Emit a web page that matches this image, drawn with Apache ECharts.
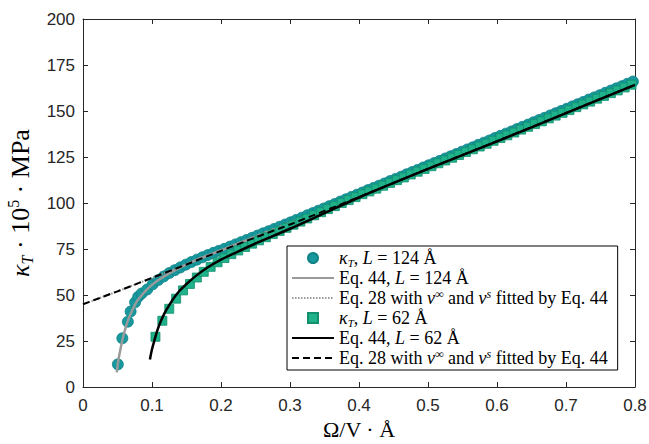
<!DOCTYPE html>
<html><head><meta charset="utf-8">
<script src="https://cdn.jsdelivr.net/npm/echarts@6/dist/echarts.min.js"></script>
<style>html,body{margin:0;padding:0;background:#fff}#c{width:649px;height:444px}</style>
</head><body><div id="c"></div>
<script>
// ---- data ----
const xTickMin = 0, xTickMax = 0.8, xTickStep = 0.1;
const yTickMin = 0, yTickMax = 200, yTickStep = 25;

// kappa_T, L = 124 Å (circles)
const c124X = [0.0505,0.057,0.065,0.069,0.0755,0.080,0.085,0.093,0.101,0.109,0.117,0.125,0.133,0.141,0.149,0.157,0.165,0.173,0.181,0.189,0.197,0.205,0.213,0.221,0.229,0.237,0.245,0.253,0.261,0.269,0.277,0.285,0.293,0.301,0.309,0.317,0.325,0.333,0.341,0.349,0.357,0.365,0.373,0.381,0.389,0.397,0.405,0.413,0.421,0.429,0.437,0.445,0.453,0.461,0.469,0.477,0.485,0.493,0.501,0.509,0.517,0.525,0.533,0.541,0.549,0.557,0.565,0.573,0.581,0.589,0.597,0.605,0.613,0.621,0.629,0.637,0.645,0.653,0.661,0.669,0.677,0.685,0.693,0.701,0.709,0.717,0.725,0.733,0.741,0.749,0.757,0.765,0.773,0.781,0.789,0.797];
const c124Y = [12.3,26.5,35.5,41,46,49,50.8,53,55.8,58.1,60.1,61.9,63.5,65,66.5,67.9,69.2,70.5,71.7,72.9,74,75.1,76.3,77.5,78.7,79.9,81.1,82.3,83.5,84.7,85.9,87.1,88.3,89.5,90.8,92.0,93.3,94.5,95.8,97.0,98.3,99.5,100.8,102.0,103.3,104.5,105.7,107.0,108.2,109.4,110.6,111.9,113.1,114.3,115.6,116.8,118.0,119.3,120.5,121.7,122.9,124.2,125.4,126.6,127.9,129.1,130.3,131.6,132.8,134.0,135.3,136.5,137.7,138.9,140.2,141.4,142.6,143.9,145.1,146.3,147.6,148.8,150.0,151.2,152.5,153.7,154.9,156.2,157.4,158.6,159.9,161.1,162.3,163.5,164.8,166.0];

// Eq. 44, L = 124 Å (grey solid)
const eq44_124X = [0.049,0.051,0.054,0.058,0.062,0.066,0.07,0.075,0.08,0.09,0.1,0.11,0.12,0.13,0.14,0.15,0.17,0.2,0.25,0.3,0.4,0.5,0.6,0.7,0.8];
const eq44_124Y = [8,14,20,27,32.5,37,40.5,44.5,47.5,52,55.5,58.3,60.7,62.8,64.8,66.6,70,74.3,81.8,89.3,104.4,119.5,134.8,150.3,165.5];

// Eq. 28 curves (grey dotted for L=124, black dashed for L=62)
const eq28_124X = [0,0.05,0.1,0.15,0.2,0.25,0.3,0.4,0.5,0.6,0.7,0.8];
const eq28_124Y = [45,52,59.3,66.6,74,81.3,88.3,103.2,118.6,133.6,148.9,164.3];
const eq28_62X = [0,0.05,0.1,0.15,0.2,0.25,0.3,0.4,0.5,0.6,0.7,0.8];
const eq28_62Y = [45,52,59.3,66.6,74,81.3,88.3,103.2,118.6,133.6,148.9,164.3];

// kappa_T, L = 62 Å (squares)
const s62X = [0.105,0.115,0.125,0.135,0.145,0.155,0.165,0.175,0.185,0.195,0.205,0.215,0.225,0.235,0.245,0.255,0.265,0.275,0.285,0.295,0.305,0.315,0.325,0.335,0.345,0.355,0.365,0.375,0.385,0.395,0.405,0.415,0.425,0.435,0.445,0.455,0.465,0.475,0.485,0.495,0.505,0.515,0.525,0.535,0.545,0.555,0.565,0.575,0.585,0.595,0.605,0.615,0.625,0.635,0.645,0.655,0.665,0.675,0.685,0.695,0.705,0.715,0.725,0.735,0.745,0.755,0.765,0.775,0.785,0.795];
const s62Y = [27.3,36,42.5,48,52.5,56,59.5,62.6,65.3,67.8,70.1,72.2,74.2,76.1,77.9,79.7,81.4,83.1,84.8,86.5,88.2,89.9,91.6,93.3,95.0,96.7,98.3,100.0,101.6,103.2,104.8,106.3,107.8,109.4,110.9,112.4,113.9,115.5,117.0,118.5,120.0,121.6,123.1,124.6,126.1,127.7,129.2,130.7,132.2,133.8,135.3,136.8,138.3,139.9,141.4,142.9,144.4,146.0,147.5,149.0,150.5,152.1,153.6,155.1,156.7,158.2,159.7,161.2,162.8,164.3];

// Eq. 44, L = 62 Å (black solid)
const eq44_62X = [0.097,0.1,0.104,0.108,0.112,0.118,0.125,0.133,0.14,0.15,0.165,0.18,0.2,0.22,0.25,0.3,0.35,0.4,0.5,0.6,0.7,0.8];
const eq44_62Y = [15,20.5,26,31,35,40,44.5,49,52.3,56,60.8,64.8,69.2,72.8,78,86,94.5,103,118.5,133.5,148.8,164.2];

const zip = (xs, ys) => xs.map((x, i) => [x, ys[i]]);

const serif = 'Liberation Serif';
const sans = 'Liberation Sans';
const axisColor = '#262626';

const legendText = {
  c124: '{i|κ}{sub|T}, {i|L} = 124 Å',
  g44: 'Eq. 44, {i|L} = 124 Å',
  g28: 'Eq. 28 with {i|ν}{sup|∞} and {i|ν}{sup|s} fitted by Eq. 44',
  s62: '{i|κ}{sub|T}, {i|L} = 62 Å',
  b44: 'Eq. 44, {i|L} = 62 Å',
  b28: 'Eq. 28 with {i|ν}{sup|∞} and {i|ν}{sup|s} fitted by Eq. 44'
};

const LF = 18;
const richLegend = {
  i: {fontFamily: serif, fontStyle: 'italic', fontSize: LF, lineHeight: 20, color: '#000'},
  sub: {fontFamily: serif, fontStyle: 'italic', fontSize: 11, lineHeight: 12, verticalAlign: 'bottom', color: '#000'},
  sup: {fontFamily: serif, fontStyle: 'italic', fontSize: 12, lineHeight: 12, verticalAlign: 'top', color: '#000'}
};

const chart = echarts.init(document.getElementById('c'), null, {renderer: 'svg'});

const baseX = {
  type: 'value', min: xTickMin, max: xTickMax, interval: xTickStep,
  axisLine: {show: true, onZero: false, lineStyle: {color: axisColor, width: 1}},
  axisTick: {show: true, inside: true, length: 5, lineStyle: {color: axisColor}},
  splitLine: {show: false}
};
const baseY = {
  type: 'value', min: yTickMin, max: yTickMax, interval: yTickStep,
  axisLine: {show: true, onZero: false, lineStyle: {color: axisColor, width: 1}},
  axisTick: {show: true, inside: true, length: 5, lineStyle: {color: axisColor}},
  splitLine: {show: false}
};

const hideSym = {opacity: 0};

chart.setOption({
  animation: false,
  backgroundColor: '#fff',
  grid: {left: 83, right: 14, top: 19, bottom: 57, containLabel: false, outerBoundsMode: 'none'},
  xAxis: [
    Object.assign({}, baseX, {
      position: 'bottom',
      axisLabel: {show: true, margin: 9, fontFamily: sans, fontSize: 17, lineHeight: 18, color: axisColor},
      name: 'Ω/V · Å', nameLocation: 'middle', nameGap: 31, nameMoveOverlap: false,
      nameTextStyle: {fontFamily: serif, fontSize: 22, color: '#000', lineHeight: 22}
    }),
    Object.assign({}, baseX, {position: 'top', axisLabel: {show: false}})
  ],
  yAxis: [
    Object.assign({}, baseY, {
      position: 'left',
      axisLabel: {show: true, margin: 8, fontFamily: sans, fontSize: 17, color: axisColor},
      name: '{i|κ}{sub|T} · 10{sup|5} · MPa', nameLocation: 'middle', nameGap: 48, nameMoveOverlap: false,
      nameTextStyle: {
        fontFamily: serif, fontSize: 26, color: '#000', lineHeight: 30,
        rich: {
          i: {fontFamily: serif, fontStyle: 'italic', fontSize: 26, lineHeight: 30, color: '#000'},
          sub: {fontFamily: serif, fontStyle: 'italic', fontSize: 16, lineHeight: 16, verticalAlign: 'bottom', color: '#000'},
          sup: {fontFamily: serif, fontSize: 16, lineHeight: 16, verticalAlign: 'top', color: '#000'}
        }
      }
    }),
    Object.assign({}, baseY, {position: 'right', axisLabel: {show: false}})
  ],
  legend: {
    left: 287, top: 246, orient: 'vertical',
    backgroundColor: '#fff', borderColor: '#000', borderWidth: 1,
    padding: [2, 10, 2, 4], itemWidth: 42, itemHeight: 10, itemGap: 0,
    textStyle: {fontFamily: serif, fontSize: LF, color: '#000', lineHeight: 20, rich: richLegend},
    formatter: n => legendText[n],
    data: [
      {name: 'c124', icon: 'circle'},
      {name: 'g44', itemStyle: hideSym},
      {name: 'g28', itemStyle: hideSym},
      {name: 's62', icon: 'path://M0,0L10,0L10,10L0,10Z'},
      {name: 'b44', itemStyle: hideSym},
      {name: 'b28', itemStyle: hideSym}
    ]
  },
  series: [
    {
      name: 'c124', type: 'scatter', data: zip(c124X, c124Y), symbol: 'circle', symbolSize: 11,
      itemStyle: {color: '#17989d', borderColor: '#0f8287', borderWidth: 0.8, opacity: 1}, z: 2
    },
    {
      name: 'g44', type: 'line', data: zip(eq44_124X, eq44_124Y), symbol: 'none', smooth: 0.3,
      lineStyle: {color: '#9a9a9a', width: 2.5}, itemStyle: {color: '#9a9a9a'}, z: 3
    },
    {
      name: 'g28', type: 'line', data: zip(eq28_124X, eq28_124Y), symbol: 'none', smooth: 0.3,
      lineStyle: {color: '#9a9a9a', width: 2, type: [1.5, 1.5]}, itemStyle: {color: '#9a9a9a'}, z: 3
    },
    {
      name: 's62', type: 'scatter', data: zip(s62X, s62Y), symbol: 'rect', symbolSize: 9,
      itemStyle: {color: '#1fb28b', borderColor: '#12906c', borderWidth: 0.8, opacity: 1}, z: 4
    },
    {
      name: 'b44', type: 'line', data: zip(eq44_62X, eq44_62Y), symbol: 'none', smooth: 0.3,
      lineStyle: {color: '#000', width: 2.5}, itemStyle: {color: '#000'}, z: 5
    },
    {
      name: 'b28', type: 'line', data: zip(eq28_62X, eq28_62Y), symbol: 'none', smooth: 0.3,
      lineStyle: {color: '#000', width: 2, type: [7, 4]}, itemStyle: {color: '#000'}, z: 5
    }
  ]
});
</script>
</body></html>
